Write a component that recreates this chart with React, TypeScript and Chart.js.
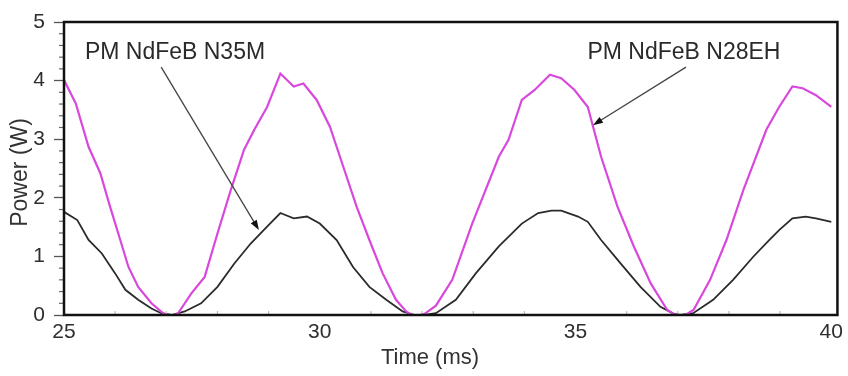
import React, { useEffect, useRef } from "react";
import { Chart, registerables } from "chart.js";

Chart.register(...registerables);

// ---- Data ----
const timeN28EH = [
  25.0, 25.23, 25.48, 25.71, 25.9, 26.1, 26.26, 26.45, 26.71, 26.94, 27.05, 27.16, 27.23, 27.49, 27.75,
  28.0, 28.26, 28.52, 28.72, 28.97, 29.23, 29.49, 29.68, 29.94, 30.2, 30.46, 30.72, 30.97, 31.23, 31.49,
  31.69, 31.8, 31.95, 32.05, 32.27, 32.59, 32.98, 33.5, 33.69, 33.95, 34.2, 34.5, 34.72, 34.98, 35.24,
  35.5, 35.82, 36.14, 36.47, 36.79, 36.95, 37.15, 37.31, 37.63, 37.95, 38.28, 38.73, 38.98, 39.24, 39.44,
  39.7, 40.0,
];
const powerN28EH = [
  4.01, 3.61, 2.87, 2.42, 1.85, 1.28, 0.82, 0.48, 0.2, 0.03, 0.0, 0.0, 0.03, 0.37, 0.65,
  1.39, 2.13, 2.82, 3.16, 3.55, 4.12, 3.9, 3.95, 3.67, 3.21, 2.53, 1.85, 1.28, 0.71, 0.26,
  0.06, 0.0, 0.0, 0.02, 0.16, 0.6, 1.56, 2.7, 2.99, 3.67, 3.84, 4.1, 4.04, 3.84, 3.55,
  2.7, 1.85, 1.17, 0.54, 0.09, 0.0, 0.0, 0.09, 0.6, 1.28, 2.13, 3.16, 3.55, 3.9, 3.87,
  3.75, 3.55,
];
const timeN35M = [
  25.0, 25.26, 25.48, 25.74, 26.0, 26.2, 26.45, 26.71, 26.9, 27.1, 27.36, 27.68, 28.0, 28.33, 28.65,
  28.97, 29.23, 29.49, 29.75, 30.0, 30.33, 30.65, 30.97, 31.3, 31.62, 31.85, 32.05, 32.27, 32.66, 33.05,
  33.5, 33.95, 34.27, 34.53, 34.72, 35.05, 35.24, 35.5, 35.88, 36.27, 36.66, 36.92, 37.05, 37.3, 37.69,
  38.08, 38.47, 38.79, 38.98, 39.24, 39.5, 39.7, 40.0,
];
const powerN35M = [
  1.76, 1.62, 1.28, 1.05, 0.71, 0.43, 0.26, 0.11, 0.03, 0.0, 0.06, 0.2, 0.48, 0.88, 1.22,
  1.51, 1.74, 1.65, 1.68, 1.56, 1.28, 0.82, 0.48, 0.26, 0.06, 0.0, 0.0, 0.03, 0.26, 0.71,
  1.17, 1.56, 1.74, 1.78, 1.78, 1.68, 1.59, 1.28, 0.88, 0.48, 0.14, 0.02, 0.0, 0.03, 0.26,
  0.6, 0.99, 1.28, 1.45, 1.65, 1.68, 1.65, 1.59,
];

const seriesNames = ["PM NdFeB N28EH", "PM NdFeB N35M"];
const xTickValues = [25, 30, 35, 40];
const yTickValues = [0, 1, 2, 3, 4, 5];
const xTitle = "Time (ms)";
const yTitle = "Power (W)";

// Annotation labels (data coordinates): text centre, arrow start, arrow end
const labelTexts = ["PM NdFeB N35M", "PM NdFeB N28EH"];
const labelCentres = [
  [27.17, 4.47],
  [37.12, 4.47],
];
const arrowStarts = [
  [26.9, 4.23],
  [37.16, 4.23],
];
const arrowEnds = [
  [28.81, 1.45],
  [35.34, 3.24],
];

const FONT = "'Liberation Sans', Arial, Helvetica, sans-serif";
const MAGENTA = "#d948dc";
const DARK = "#2b2b2b";

const decorPlugin = {
  id: "decor",
  afterDraw(chart: any) {
    const { ctx, chartArea: a, scales } = chart;
    const xs = scales.x;
    const ys = scales.y;
    ctx.save();

    // minor y ticks (outward)
    ctx.strokeStyle = "#666";
    ctx.lineWidth = 1.2;
    for (let i = 0; i <= 25; i++) {
      if (i % 5 === 0) continue;
      const py = ys.getPixelForValue(i * 0.2);
      ctx.beginPath();
      ctx.moveTo(a.left - 5, py);
      ctx.lineTo(a.left, py);
      ctx.stroke();
    }
    // minor x ticks (inward)
    ctx.strokeStyle = "#bbb";
    for (let t = 26; t < 40; t++) {
      if (t % 5 === 0) continue;
      const px = xs.getPixelForValue(t);
      ctx.beginPath();
      ctx.moveTo(px, a.bottom);
      ctx.lineTo(px, a.bottom - 4);
      ctx.stroke();
    }

    // frame
    ctx.strokeStyle = "#111";
    ctx.lineWidth = 2.5;
    ctx.strokeRect(a.left, a.top, a.right - a.left, a.bottom - a.top);

    // annotations
    ctx.fillStyle = "#2a2a2a";
    ctx.font = `23px ${FONT}`;
    ctx.textAlign = "center";
    ctx.textBaseline = "middle";
    labelTexts.forEach((txt, i) => {
      ctx.fillText(txt, xs.getPixelForValue(labelCentres[i][0]), ys.getPixelForValue(labelCentres[i][1]));
      const x0 = xs.getPixelForValue(arrowStarts[i][0]);
      const y0 = ys.getPixelForValue(arrowStarts[i][1]);
      const x1 = xs.getPixelForValue(arrowEnds[i][0]);
      const y1 = ys.getPixelForValue(arrowEnds[i][1]);
      const ang = Math.atan2(y1 - y0, x1 - x0);
      ctx.strokeStyle = "#444";
      ctx.lineWidth = 1.3;
      ctx.beginPath();
      ctx.moveTo(x0, y0);
      ctx.lineTo(x1 - 6 * Math.cos(ang), y1 - 6 * Math.sin(ang));
      ctx.stroke();
      ctx.fillStyle = "#111";
      ctx.beginPath();
      ctx.moveTo(x1, y1);
      ctx.lineTo(x1 - 10 * Math.cos(ang) + 3.5 * Math.sin(ang), y1 - 10 * Math.sin(ang) - 3.5 * Math.cos(ang));
      ctx.lineTo(x1 - 10 * Math.cos(ang) - 3.5 * Math.sin(ang), y1 - 10 * Math.sin(ang) + 3.5 * Math.cos(ang));
      ctx.closePath();
      ctx.fill();
      ctx.fillStyle = "#2a2a2a";
    });

    // axis titles
    ctx.fillStyle = "#333";
    ctx.font = `22px ${FONT}`;
    ctx.textAlign = "center";
    ctx.textBaseline = "middle";
    ctx.fillText(xTitle, 430, 358);
    ctx.save();
    ctx.translate(21, (a.top + a.bottom) / 2 + 4);
    ctx.rotate(-Math.PI / 2);
    ctx.font = `23px ${FONT}`;
    ctx.fillText(yTitle, 0, 0);
    ctx.restore();

    ctx.restore();
  },
};

export default function App() {
  const canvasRef = useRef<HTMLCanvasElement | null>(null);

  useEffect(() => {
    const canvas = canvasRef.current;
    if (!canvas) return;
    const toPoints = (xs: number[], ys: number[]) => xs.map((x, i) => ({ x, y: ys[i] }));
    const chart = new Chart(canvas, {
      type: "line",
      data: {
        datasets: [
          {
            label: seriesNames[0],
            data: toPoints(timeN28EH, powerN28EH),
            borderColor: MAGENTA,
            borderWidth: 2.2,
            pointRadius: 0,
            tension: 0,
            fill: false,
          },
          {
            label: seriesNames[1],
            data: toPoints(timeN35M, powerN35M),
            borderColor: DARK,
            borderWidth: 1.8,
            pointRadius: 0,
            tension: 0,
            fill: false,
          },
        ],
      },
      options: {
        animation: false,
        responsive: false,
        maintainAspectRatio: false,
        events: [],
        layout: { padding: { top: 22, right: 3, left: 0, bottom: 0 } },
        plugins: {
          legend: { display: false },
          tooltip: { enabled: false },
          title: { display: false },
        },
        scales: {
          x: {
            type: "linear",
            min: 25,
            max: 40.12,
            afterBuildTicks: (s: any) => {
              s.ticks = xTickValues.map((v) => ({ value: v }));
            },
            afterFit: (s: any) => {
              s.height = 61;
            },
            ticks: {
              color: "#2e2e2e",
              font: { family: FONT, size: 21 },
              padding: 5,
              maxRotation: 0,
              autoSkip: false,
            },
            grid: { display: true, drawOnChartArea: false, drawTicks: false },
            border: { display: false },
          },
          y: {
            type: "linear",
            min: 0,
            max: 5,
            afterBuildTicks: (s: any) => {
              s.ticks = yTickValues.map((v) => ({ value: v }));
            },
            afterFit: (s: any) => {
              s.width = 64;
            },
            ticks: {
              color: "#2e2e2e",
              font: { family: FONT, size: 21 },
              padding: 9,
              autoSkip: false,
            },
            grid: {
              display: true,
              drawOnChartArea: false,
              drawTicks: true,
              tickLength: 10,
              tickColor: "#555",
              tickWidth: 1.3,
            },
            border: { display: false },
          },
        },
      },
      plugins: [decorPlugin],
    });
    return () => chart.destroy();
  }, []);

  return (
    <div style={{ position: "absolute", left: 0, top: 0, width: 848, height: 376, background: "#fff" }}>
      <canvas ref={canvasRef} width={848} height={376} style={{ display: "block", width: 848, height: 376 }} />
    </div>
  );
}
